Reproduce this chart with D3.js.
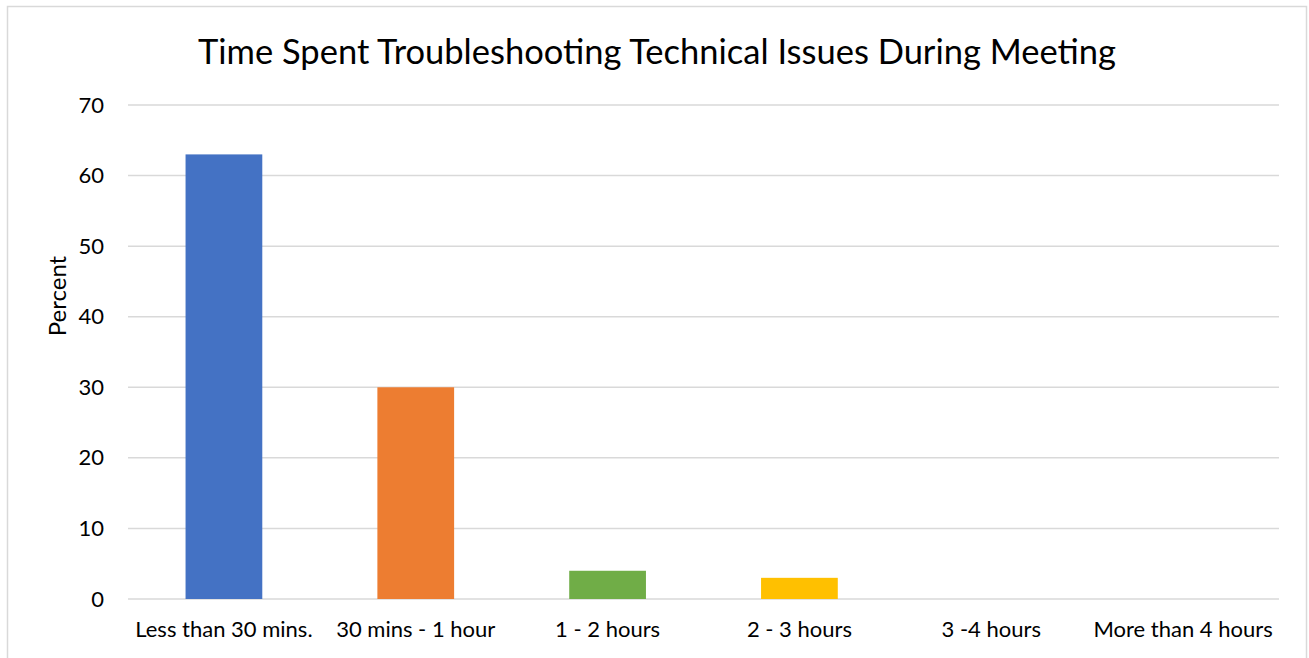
<!DOCTYPE html>
<html>
<head>
<meta charset="utf-8">
<script src="https://cdn.jsdelivr.net/npm/d3@7"></script>
<style>
  html, body { margin: 0; padding: 0; background: #fff; }
  svg { display: block; font-family: Lato, "Open Sans", sans-serif; }
</style>
</head>
<body>
<svg id="chart" width="1309" height="658"></svg>
<script>
// Survey data: time spent fixing technical problems in meetings
const categories = ["Less than 30 mins.", "30 mins - 1 hour", "1 - 2 hours", "2 - 3 hours", "3 -4 hours", "More than 4 hours"];
const percents = [63, 30, 4, 3, 0, 0];
const barColors = ["#4472c4", "#ed7d31", "#70ad47", "#ffc000", "#5b9bd5", "#264478"];
const yTicks = [0, 10, 20, 30, 40, 50, 60, 70];
const titleText = "Time Spent Troubleshooting Technical Issues During Meeting";
const yLabel = "Percent";

const svg = d3.select("#chart");

// chart frame
svg.append("rect")
  .attr("x", 7.5).attr("y", 6.5)
  .attr("width", 1299).attr("height", 660)
  .attr("fill", "#fff").attr("stroke", "#d9d9d9").attr("stroke-width", 1.5);

const plot = { left: 128, right: 1279, top: 105, bottom: 599 };
const labelFont = 22;

const x = d3.scaleBand()
  .domain(categories)
  .range([plot.left, plot.right])
  .paddingInner(0.6)
  .paddingOuter(0.3);

const y = d3.scaleLinear()
  .domain([0, 70])
  .range([plot.bottom, plot.top]);

// horizontal gridlines
svg.append("g")
  .selectAll("line")
  .data(yTicks)
  .join("line")
  .attr("x1", plot.left).attr("x2", plot.right)
  .attr("y1", d => y(d)).attr("y2", d => y(d))
  .attr("stroke", "#d9d9d9").attr("stroke-width", 1.5);

// y tick labels
const yAxis = d3.axisLeft(y).tickValues(yTicks).tickSize(0).tickPadding(0);
const gy = svg.append("g")
  .attr("transform", `translate(${plot.left - 24},0)`)
  .call(yAxis);
gy.select(".domain").remove();
gy.selectAll("text")
  .attr("font-size", labelFont).attr("fill", "#000")
  .attr("font-family", "Lato, 'Open Sans', sans-serif");

// bars
svg.append("g")
  .selectAll("rect")
  .data(categories)
  .join("rect")
  .attr("x", d => x(d))
  .attr("width", x.bandwidth())
  .attr("y", (d, i) => y(percents[i]))
  .attr("height", (d, i) => y(0) - y(percents[i]))
  .attr("fill", (d, i) => barColors[i]);

// x category labels
const xAxis = d3.axisBottom(x).tickSize(0).tickPadding(0);
const gx = svg.append("g")
  .attr("transform", `translate(0,${plot.bottom + 22})`)
  .call(xAxis);
gx.select(".domain").remove();
gx.selectAll("text")
  .attr("font-size", labelFont).attr("fill", "#000")
  .attr("font-family", "Lato, 'Open Sans', sans-serif");

// title
svg.append("text")
  .attr("x", 657).attr("y", 64)
  .attr("text-anchor", "middle")
  .attr("font-size", 34.5)
  .attr("fill", "#000")
  .text(titleText);

// y axis title
svg.append("text")
  .attr("transform", `translate(66,296) rotate(-90)`)
  .attr("text-anchor", "middle")
  .attr("font-size", 24)
  .attr("fill", "#000")
  .text(yLabel);
</script>
</body>
</html>
